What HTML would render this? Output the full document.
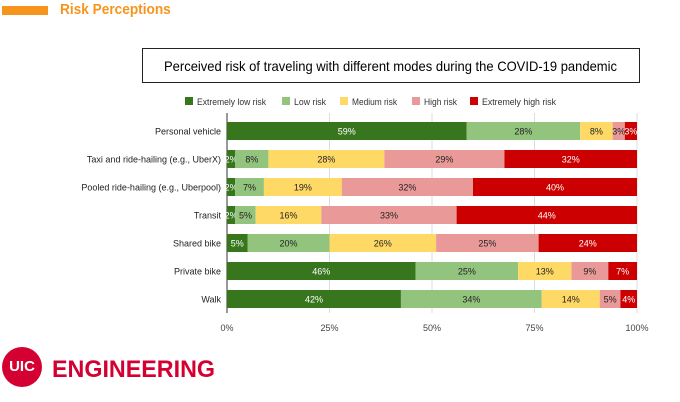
<!DOCTYPE html>
<html><head><meta charset="utf-8"><style>
body{margin:0;width:680px;height:402px;background:#fff;font-family:"Liberation Sans",sans-serif;position:relative;overflow:hidden}
</style></head><body>
<div style="position:absolute;left:2px;top:6px;width:46px;height:9px;background:#f7941d"></div>
<div style="position:absolute;left:60px;top:1px;font-size:15px;font-weight:bold;color:#f7941d;transform:scaleX(0.91);transform-origin:0 0;white-space:nowrap">Risk Perceptions</div>
<svg id="chart" width="680" height="402" style="position:absolute;left:0;top:0">
<rect x="142.5" y="48.5" width="497" height="34" fill="#fff" stroke="#222" stroke-width="1"/>
<text x="164" y="71" textLength="453" lengthAdjust="spacingAndGlyphs" font-size="14" fill="#000">Perceived risk of traveling with different modes during the COVID-19 pandemic</text>
<g id="plot"></g>
</svg>
<div style="position:absolute;left:2px;top:347px;width:40px;height:40px;border-radius:50%;background:#d50032;color:#fff;font-weight:bold;font-size:15px;line-height:40px;text-align:center">UIC</div>
<div style="position:absolute;left:52px;top:356px;font-size:24px;font-weight:bold;color:#d50032;transform:scaleX(0.97);transform-origin:0 0;white-space:nowrap">ENGINEERING</div>
<script>
const categories=["Personal vehicle","Taxi and ride-hailing (e.g., UberX)","Pooled ride-hailing (e.g., Uberpool)","Transit","Shared bike","Private bike","Walk"];
const seriesNames=["Extremely low risk","Low risk","Medium risk","High risk","Extremely high risk"];
const extremelyLow=[59,2,2,2,5,46,42];
const low=[28,8,7,5,20,25,34];
const medium=[8,28,19,16,26,13,14];
const high=[3,29,32,33,25,9,5];
const extremelyHigh=[3,32,40,44,24,7,4];
const ticks=["0%","25%","50%","75%","100%"];
const colors=["#38761d","#93c47d","#ffd966","#ea9999","#cc0000"];
const textColors=["#fff","#222","#222","#222","#fff"];
const ns="http://www.w3.org/2000/svg";
const g=document.getElementById("plot");
const X0=227,X1=637,Y0=117,ROW=28,BH=18;
const x=v=>X0+(X1-X0)*v/100;
const yc=i=>Y0+ROW*i+ROW/2;
function mk(t,a){const e=document.createElementNS(ns,t);for(const k in a)e.setAttribute(k,a[k]);g.appendChild(e);return e;}
ticks.forEach((t,i)=>{const v=i*25;
 const l=mk("line",{x1:x(v),x2:x(v),y1:113,y2:313,stroke:i==0?"#333":"#ddd","stroke-width":1});
 
 
 const tx=mk("text",{x:x(v),y:331,"text-anchor":"middle","font-size":9,fill:"#444"});tx.textContent=t;
 
 
});
const series=[extremelyLow,low,medium,high,extremelyHigh];
categories.forEach((c,i)=>{
 const tot=series.reduce((s,a)=>s+a[i],0);let acc=0;
 const lab=mk("text",{x:221,y:yc(i)+3.5,"text-anchor":"end","font-size":9,fill:"#222"});lab.textContent=c;
 
 
 series.forEach((s,j)=>{const v=s[i]/tot*100;
  const r=mk("rect",{x:x(acc),y:yc(i)-BH/2,width:x(acc+v)-x(acc),height:BH,fill:colors[j]});
  
  
  const t=mk("text",{x:(x(acc)+x(acc+v))/2,y:yc(i)+3.5,"text-anchor":"middle","font-size":9,fill:textColors[j]});t.textContent=s[i]+"%";
  
  
  acc+=v;});
});
const lx=[185,282,340,412,470];
const lw=[69,32,45,33,74];
seriesNames.forEach((n,j)=>{
 const r=mk("rect",{x:lx[j],y:97,width:8,height:8,fill:colors[j]});
 
 
 const t=mk("text",{x:lx[j]+12,y:105,"font-size":9,fill:"#333",textLength:lw[j],lengthAdjust:"spacingAndGlyphs"});t.textContent=n;
 
 
});
</script>
</body></html>
